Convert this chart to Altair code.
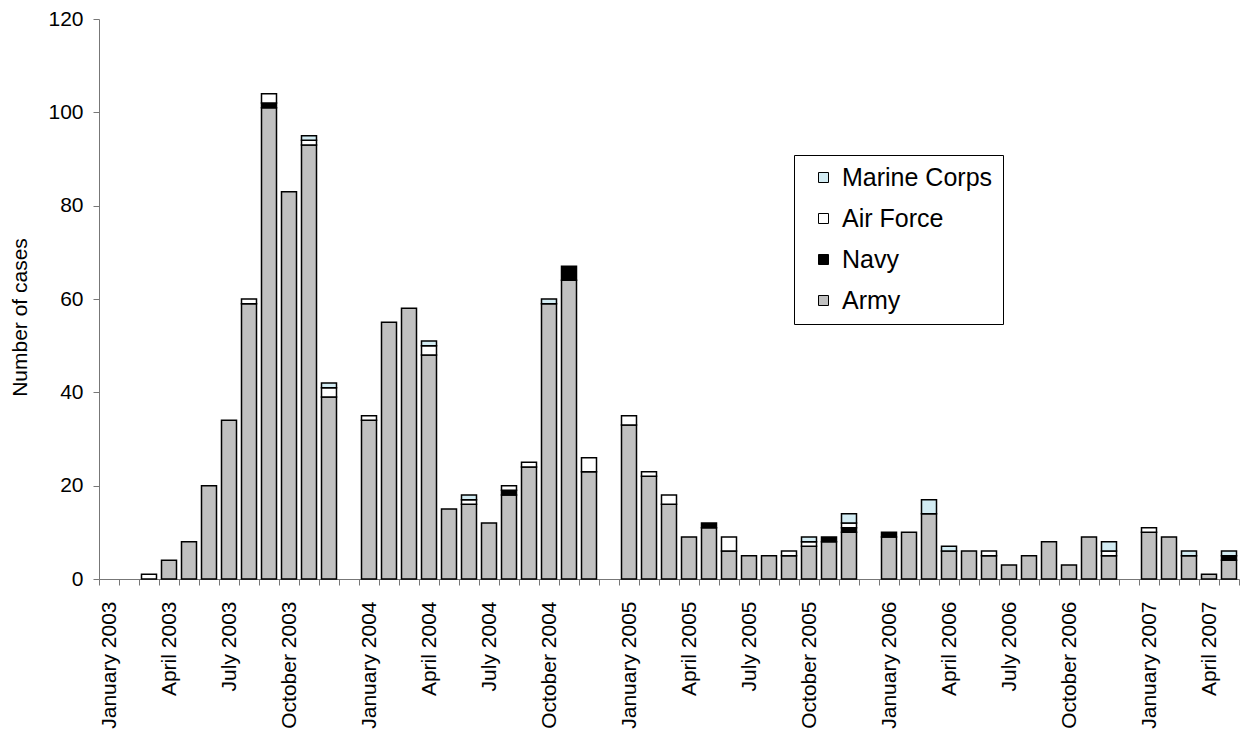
import altair as alt
import pandas as pd

# ---- data ----
month_names = ["January", "February", "March", "April", "May", "June",
               "July", "August", "September", "October", "November", "December"]
years = [2003, 2004, 2005, 2006, 2007]
months_in_last_year = 5  # data ends May 2007

# monthly counts, January 2003 .. May 2007
army = [0, 0, 0, 4, 8, 20, 34, 59, 101, 83, 93, 39,
        34, 55, 58, 48, 15, 16, 12, 18, 24, 59, 64, 23,
        33, 22, 16, 9, 11, 6, 5, 5, 5, 7, 8, 10,
        9, 10, 14, 6, 6, 5, 3, 5, 8, 3, 9, 5,
        10, 9, 5, 1, 4]
navy = [0, 0, 0, 0, 0, 0, 0, 0, 1, 0, 0, 0,
        0, 0, 0, 0, 0, 0, 0, 1, 0, 0, 3, 0,
        0, 0, 0, 0, 1, 0, 0, 0, 0, 0, 1, 1,
        1, 0, 0, 0, 0, 0, 0, 0, 0, 0, 0, 0,
        0, 0, 0, 0, 1]
air_force = [0, 0, 1, 0, 0, 0, 0, 1, 2, 0, 1, 2,
             1, 0, 0, 2, 0, 1, 0, 1, 1, 0, 0, 3,
             2, 1, 2, 0, 0, 3, 0, 0, 1, 1, 0, 1,
             0, 0, 0, 0, 0, 1, 0, 0, 0, 0, 0, 1,
             1, 0, 0, 0, 0]
marine_corps = [0, 0, 0, 0, 0, 0, 0, 0, 0, 0, 1, 1,
                0, 0, 0, 1, 0, 1, 0, 0, 0, 1, 0, 0,
                0, 0, 0, 0, 0, 0, 0, 0, 0, 1, 0, 2,
                0, 0, 3, 1, 0, 0, 0, 0, 0, 0, 0, 2,
                0, 0, 1, 0, 1]

services = ["Army", "Navy", "Air Force", "Marine Corps"]
legend_order = ["Marine Corps", "Air Force", "Navy", "Army"]
service_colors = ["#D3ECF3", "#FFFFFF", "#000000", "#C0C0C0"]
series = {"Army": army, "Navy": navy, "Air Force": air_force, "Marine Corps": marine_corps}

# ---- category axis: months, with one empty slot between years ----
month_labels = []
slots = []
for y in years:
    n = 12 if y != years[-1] else months_in_last_year
    for m in month_names[:n]:
        lab = f"{m} {y}"
        month_labels.append(lab)
        slots.append(lab)
    if y != years[-1]:
        slots.append(f"gap {y}")

rows = []
for rank, s in enumerate(services):
    for lab, v in zip(month_labels, series[s]):
        if v > 0:
            rows.append({"month": lab, "service": s, "cases": v, "rank": rank})
df = pd.DataFrame(rows)

FONT = "Liberation Sans"

label_expr = "test(regexp('^(January|April|July|October) '), datum.label) ? datum.label : ''"

chart = alt.Chart(df).mark_bar(
    stroke="black", strokeWidth=1.5, width={"band": 0.75}
).encode(
    x=alt.X("month:N", sort=slots,
            scale=alt.Scale(domain=slots, paddingInner=0, paddingOuter=0),
            axis=alt.Axis(title=None, tickBand="extent", labelExpr=label_expr,
                          labelAngle=270, labelAlign="right", labelBaseline="middle",
                          labelFontSize=21, labelFont=FONT, labelColor="black",
                          labelPadding=16, tickSize=6, labelOverlap=False,
                          domainColor="#777777", tickColor="#777777")),
    y=alt.Y("sum(cases):Q",
            scale=alt.Scale(domain=[0, 120], nice=False),
            axis=alt.Axis(title="Number of cases", values=[0, 20, 40, 60, 80, 100, 120],
                          grid=False, tickSize=6, labelPadding=10,
                          labelFontSize=21, labelFont=FONT, labelColor="black",
                          titleFontSize=21, titleFont=FONT, titleFontWeight="normal",
                          titleColor="black", titleX=-79, titleY=298,
                          titleBaseline="middle", titleAngle=270,
                          domainColor="#777777", tickColor="#777777")),
    color=alt.Color("service:N",
                    scale=alt.Scale(domain=legend_order, range=service_colors),
                    legend=alt.Legend(title=None, orient="none", legendX=695, legendY=136,
                                      padding=10, rowPadding=15, symbolType="square",
                                      symbolSize=100, symbolStrokeColor="black",
                                      symbolStrokeWidth=1, symbolOpacity=1,
                                      symbolOffset=7, labelOffset=6,
                                      labelFontSize=25, labelFont=FONT, labelColor="black",
                                      strokeColor="black", fillColor="white")),
    order=alt.Order("rank:Q", sort="ascending"),
).properties(
    width=1140, height=560,
    autosize=alt.AutoSizeParams(type="none"),
    padding={"left": 91, "top": 11, "right": 4, "bottom": 150},
).configure_view(stroke="transparent")

chart.save("out.html", embed_options={"renderer": "svg", "actions": False})
